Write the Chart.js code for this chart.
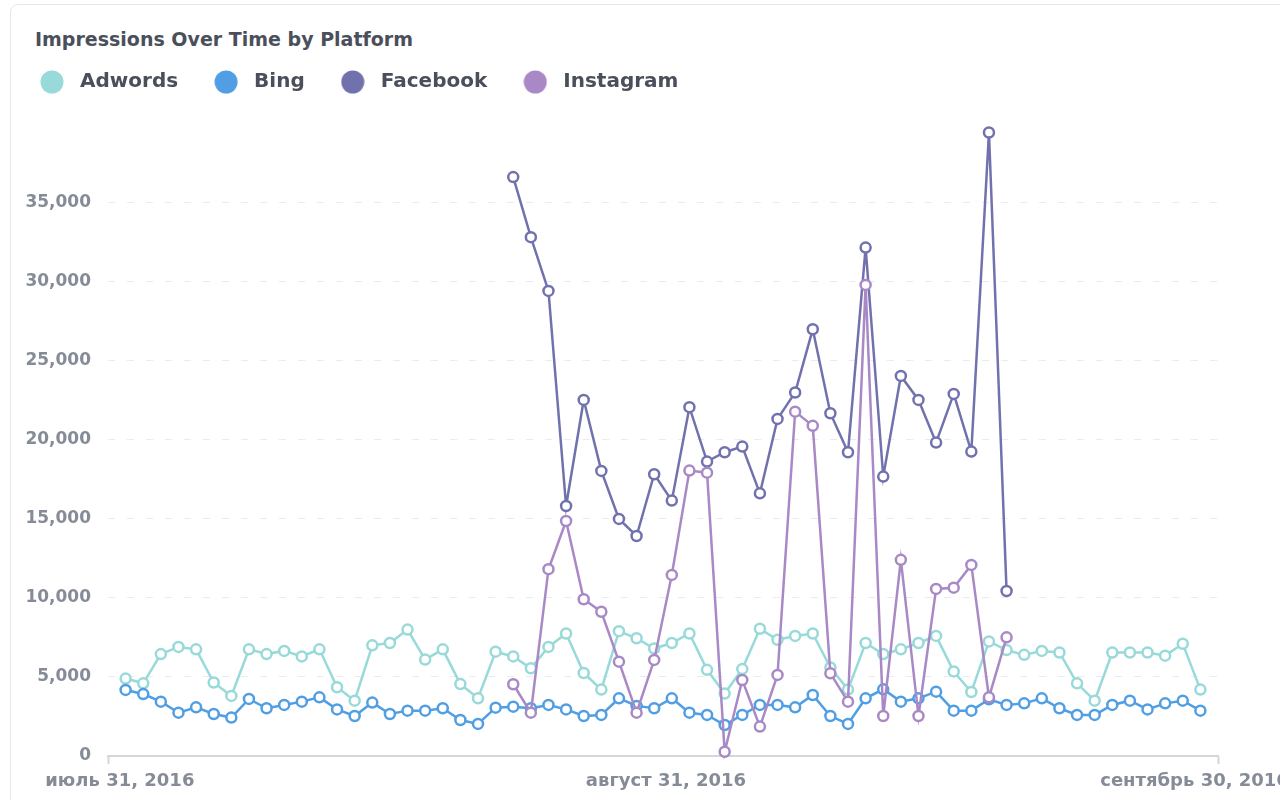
<!DOCTYPE html>
<html>
<head>
<meta charset="utf-8">
<script src="https://cdn.jsdelivr.net/npm/chart.js@4.4.1/dist/chart.umd.min.js"></script>
<style>
html,body{margin:0;padding:0;background:#fff;width:1280px;height:800px;overflow:hidden;}
#card{position:absolute;left:10px;top:4px;width:1320px;height:840px;border:1px solid #e3e7ec;border-radius:8px;box-sizing:border-box;}
#title{position:absolute;left:35px;top:27px;font:700 19px "DejaVu Sans", sans-serif;color:#4a4f5b;line-height:24px;white-space:nowrap;}
#wrap{position:absolute;left:0;top:0;width:1280px;height:800px;}
</style>
</head>
<body>
<div id="card"></div>
<div id="title">Impressions Over Time by Platform</div>
<div id="wrap"><canvas id="c" width="1280" height="800"></canvas></div>
<script>
// ---- data (one value per day, index 0 = July 31, 2016 ... 61 = Sept 30, 2016) ----
const seriesNames = ['Adwords', 'Bing', 'Facebook', 'Instagram'];
const seriesColors = ['#98D9D9', '#509EE3', '#7172AD', '#A989C5'];

const adwords = [4900, 4600, 6450, 6900, 6750, 4650, 3800, 6750, 6450, 6650, 6300, 6750, 4350, 3500, 7000, 7150, 8000, 6100, 6750, 4550, 3650, 6600,
  6300, 5550, 6900, 7750, 5250, 4200, 7900, 7450, 6800, 7150, 7750, 5450, 3950, 5500, 8050, 7350, 7600, 7750, 5600, 4200,
  7150, 6450, 6750, 7150, 7600, 5350, 4050, 7250, 6700, 6400, 6650, 6550, 4600, 3500, 6550, 6550, 6550, 6350, 7100, 4200];

const bing = [4180, 3920, 3440, 2740, 3080, 2660, 2430, 3610, 3020, 3230, 3440, 3710, 2950, 2530, 3380, 2660, 2870, 2870, 3020, 2280, 2030, 3060,
  3120, 3020, 3230, 2950, 2530, 2600, 3650, 3170, 3020, 3650, 2740, 2600, 1960, 2600, 3230, 3230, 3080, 3860, 2530, 2030,
  3650, 4220, 3440, 3650, 4070, 2870, 2870, 3590, 3230, 3330, 3650, 3020, 2600, 2600, 3230, 3500, 2950, 3330, 3500, 2870];

const facebook = [null, null, null, null, null, null, null, null, null, null, null, null, null, null, null, null, null, null, null, null, null, null,
  36630, 32830, 29430, 15820, 22530, 18040, 15000, 13920, 17830, 16160, 22070, 18630, 19220, 19580, 16620, 21330, 23000, 27000, 21690, 19220,
  32170, 17680, 24050, 22530, 19830, 22910, 19260, 39450, 10440, null, null, null, null, null, null, null, null, null, null, null];

const instagram = [null, null, null, null, null, null, null, null, null, null, null, null, null, null, null, null, null, null, null, null, null, null,
  4540, 2740, 11820, 14870, 9920, 9130, 5970, 2740, 6080, 11460, 18060, 17930, 270, 4810, 1860, 5130, 21790, 20890, 5230, 3440,
  29810, 2530, 12410, 2530, 10570, 10650, 12090, 3710, 7510, null, null, null, null, null, null, null, null, null, null, null];

const tickIndex = [0, 31, 61];
const tickLabels = ['июль 31, 2016', 'август 31, 2016', 'сентябрь 30, 2016'];
const yTicks = [0, 5000, 10000, 15000, 20000, 25000, 30000, 35000];

// ---- chart ----
const allValues = [adwords, bing, facebook, instagram];
const toPoints = arr => arr.map((v, i) => ({x: i, y: v}));
const labelShift = -0.33; // date labels sit slightly left of the day's point

function dotCanvas(color) {
  const c = document.createElement('canvas');
  c.width = 24; c.height = 24;
  const g = c.getContext('2d');
  g.fillStyle = color;
  g.beginPath();
  g.arc(12, 12, 11.5, 0, Math.PI * 2);
  g.fill();
  return c;
}
const legendDots = seriesColors.map(dotCanvas);

const legendGap = {
  id: 'legendGap',
  beforeInit(chart) {
    const fit = chart.legend.fit;
    chart.legend.fit = function () { fit.call(this); this.height += 25; };
  }
};

const tickColor = '#858b97';

const datasets = seriesNames.map((name, k) => ({
  label: name,
  data: toPoints(allValues[k]),
  borderColor: seriesColors[k],
  backgroundColor: seriesColors[k],
  pointBackgroundColor: '#ffffff',
  pointBorderColor: seriesColors[k],
  pointBorderWidth: 2.5,
  pointRadius: 5,
  borderWidth: 2.5,
  tension: 0,
  spanGaps: false,
  clip: false,
  order: 4 - k
}));

const xTickValues = [-1].concat(tickIndex.map(v => v + labelShift), [62]);

new Chart(document.getElementById('c'), {
  type: 'line',
  data: {datasets},
  plugins: [legendGap],
  options: {
    responsive: false,
    animation: false,
    devicePixelRatio: 1,
    events: [],
    layout: {padding: {left: 4, top: 42, right: 62, bottom: 0}},
    plugins: {
      tooltip: {enabled: false},
      title: {display: false},
      legend: {
        display: true,
        position: 'top',
        align: 'start',
        labels: {
          usePointStyle: true,
          pointStyleWidth: 36,
          padding: 30,
          color: '#4a4f5b',
          font: {family: 'DejaVu Sans', size: 20, weight: 'bold'},
          sort: (a, b) => a.datasetIndex - b.datasetIndex,
          generateLabels(chart) {
            const items = Chart.defaults.plugins.legend.labels.generateLabels(chart);
            items.forEach(it => { it.pointStyle = legendDots[it.datasetIndex]; });
            return items;
          }
        }
      }
    },
    scales: {
      x: {
        type: 'linear',
        min: -1,
        max: 62,
        afterBuildTicks: s => { s.ticks = xTickValues.map(v => ({value: v})); },
        afterFit: s => { s.height = 44; },
        ticks: {
          autoSkip: false,
          maxRotation: 0,
          minRotation: 0,
          padding: 7,
          font: {family: 'DejaVu Sans', size: 18, weight: 'bold'},
          color: tickColor,
          callback: v => {
            const k = tickIndex.findIndex(t => Math.abs(t + labelShift - v) < 1e-6);
            return k >= 0 ? tickLabels[k] : '';
          }
        },
        grid: {
          drawOnChartArea: false,
          drawTicks: true,
          tickLength: 8,
          tickWidth: 2,
          tickColor: ctx => (ctx.tick && (ctx.tick.value === -1 || ctx.tick.value === 62)) ? '#d3d7dc' : 'rgba(0,0,0,0)'
        },
        border: {display: true, color: '#d3d7dc', width: 2}
      },
      y: {
        min: 0,
        max: 39800,
        afterBuildTicks: s => { s.ticks = yTicks.map(v => ({value: v})); },
        afterFit: s => { s.width = 104; },
        ticks: {
          padding: 17,
          font: {family: 'DejaVu Sans', size: 17, weight: 'bold'},
          color: tickColor,
          callback: v => v.toLocaleString('en-US')
        },
        grid: {color: '#e9ecef', lineWidth: 1, drawTicks: false},
        border: {display: false, dash: [7, 12]}
      }
    }
  }
});
</script>
</body>
</html>
